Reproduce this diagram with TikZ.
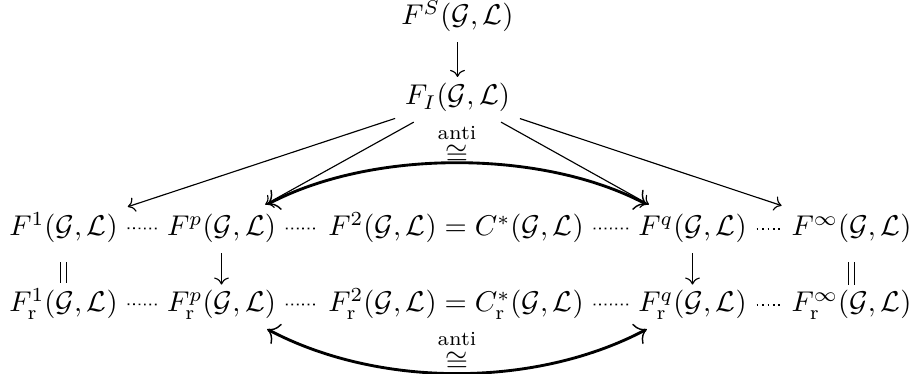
\documentclass[tikz,border=0pt]{standalone}
\usepackage{amsmath}
\usetikzlibrary{arrows.meta}

\begin{document}
\begin{tikzpicture}[x=0.35pt, y=-0.35pt,
   obj/.style={anchor=base, inner sep=3.3pt},
   arr/.style={-{Computer Modern Rightarrow}, line width=0.4pt},
   eqv/.style={double, double distance=1.5pt, line width=0.5pt,
               shorten <=3.2pt, shorten >=-1.5pt},
   dots/.style={dash pattern=on 0.6pt off 1.3pt, line width=0.6pt},
   iso/.style={{Computer Modern Rightarrow[line width=0.5pt]}-{Computer Modern Rightarrow[line width=0.5pt]},
               line width=1pt, looseness=0.8},
   isolbl/.style={inner sep=0.3pt}]
\useasboundingbox (0,0) rectangle (915,374);

% top
\node[obj] (fS) at (457.5,25)  {$F^S(\mathcal{G},\mathcal{L})$};
\node[obj] (fI) at (457.5,105) {$F_I(\mathcal{G},\mathcal{L})$};

% full row
\node[obj] (f1)   at (63.5,236)  {$F^1(\mathcal{G},\mathcal{L})$};
\node[obj] (fp)   at (221.5,236) {$F^p(\mathcal{G},\mathcal{L})$};
\node[obj] (f2)   at (456,236)   {$F^2(\mathcal{G},\mathcal{L}) = C^*(\mathcal{G},\mathcal{L})$};
\node[obj] (fq)   at (692.5,236) {$F^q(\mathcal{G},\mathcal{L})$};
\node[obj] (finf) at (851.5,236) {$F^\infty(\mathcal{G},\mathcal{L})$};

% reduced row
\node[obj] (r1)   at (63.5,312)  {$F^1_{\mathrm{r}}(\mathcal{G},\mathcal{L})$};
\node[obj] (rp)   at (221.5,312) {$F^p_{\mathrm{r}}(\mathcal{G},\mathcal{L})$};
\node[obj] (r2)   at (456,312)   {$F^2_{\mathrm{r}}(\mathcal{G},\mathcal{L}) = C^*_{\mathrm{r}}(\mathcal{G},\mathcal{L})$};
\node[obj] (rq)   at (692.5,312) {$F^q_{\mathrm{r}}(\mathcal{G},\mathcal{L})$};
\node[obj] (rinf) at (851.5,312) {$F^\infty_{\mathrm{r}}(\mathcal{G},\mathcal{L})$};

\draw[arr, shorten >=-1.2pt] (fS) -- (fI);
\draw[arr] (fI) -- (f1);
\draw[arr] (fI) -- (fp);
\draw[arr] (fI) -- (fq);
\draw[arr] (fI) -- (finf);

\draw[dots] (f1) -- (fp);
\draw[dots] (fp) -- (f2);
\draw[dots] (f2) -- (fq);
\draw[dots] (fq) -- (finf);
\draw[dots] (r1) -- (rp);
\draw[dots] (rp) -- (r2);
\draw[dots] (r2) -- (rq);
\draw[dots] (rq) -- (rinf);

\draw[eqv] (f1) -- (r1);
\draw[arr, shorten >=-1.4pt] (fp) -- (rp);
\draw[arr, shorten >=-1.4pt] (fq) -- (rq);
\draw[eqv] (finf) -- (rinf);

\draw[iso] (fp) to[bend left=28]
  node[above, isolbl, yshift=-1.3pt] (isoT) {$\overset{\text{anti}}{\cong}$} (fq);
\draw[iso, looseness=0.85] (rp) to[bend right=28]
  node[above, isolbl] (isoB) {$\overset{\text{anti}}{\cong}$} (rq);
\end{tikzpicture}
\end{document}
